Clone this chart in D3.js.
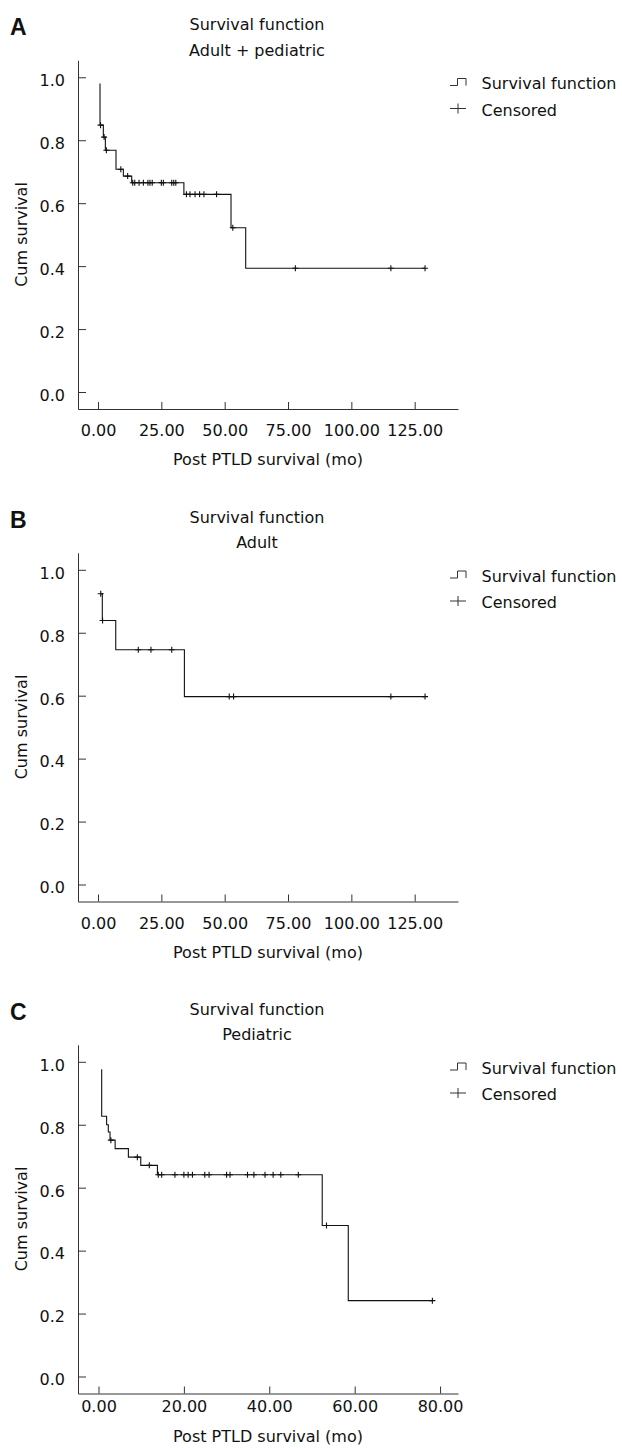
<!DOCTYPE html>
<html>
<head>
<meta charset="utf-8">
<script src="https://cdn.jsdelivr.net/npm/d3@7"></script>
<style>
  body { margin: 0; background: #fff; }
  text { font-family: "DejaVu Sans", Verdana, sans-serif; fill: #111; }
</style>
</head>
<body>
<div id="chart"></div>
<script>
// step points of each Kaplan-Meier curve (time in months, cumulative survival)
var timesA = [0.79, 0.79, 2.1, 2.9, 7.1, 10.0, 13.3, 33.9, 52.5, 58.3, 129.1];
var survA = [0.980, 0.848, 0.810, 0.768, 0.708, 0.686, 0.665, 0.628, 0.522, 0.393, 0.393];
var censoredA = [1.0, 2.4, 3.3, 9.0, 11.7, 13.7, 14.5, 16.2, 17.9, 19.7, 20.5, 21.4, 25.0, 25.8,
  29.1, 29.9, 30.7, 34.9, 36.3, 38.3, 40.1, 41.8, 46.8, 53.2, 77.9, 115.6, 129.1];

var timesB = [1.07, 1.7, 7.0, 34.1, 129.1];
var survB = [0.924, 0.839, 0.746, 0.597, 0.597];
var censoredB = [1.07, 1.8, 15.9, 20.9, 29.1, 51.8, 53.5, 115.6, 129.1];

var timesC = [0.75, 0.75, 1.9, 2.3, 2.7, 3.9, 7.0, 9.9, 13.8, 52.4, 58.5, 78.2];
var survC = [0.976, 0.827, 0.800, 0.777, 0.751, 0.724, 0.697, 0.671, 0.641, 0.480, 0.241, 0.241];
var censoredC = [2.9, 9.1, 11.9, 14.0, 14.8, 17.9, 20.0, 21.0, 22.0, 24.9, 25.9, 30.0, 30.8,
  34.9, 36.4, 39.0, 40.9, 42.7, 46.8, 53.4, 78.2];

var ticksAB = [0, 25, 50, 75, 100, 125];
var ticksC = [0, 20, 40, 60, 80];
var yTicks = [0, 0.2, 0.4, 0.6, 0.8, 1.0];
var letters = ["A", "B", "C"];
var subtitles = ["Adult + pediatric", "Adult", "Pediatric"];
var legendLabels = ["Survival function", "Censored"];

var svg = d3.select("#chart")
  .append("svg")
  .attr("width", 622)
  .attr("height", 1450);

var panels = [
  { times: timesA, surv: survA, cens: censoredA, xDomain: [-7.9, 142.1], xTicks: ticksAB, top: 0, tickY: 436, labelY: 465 },
  { times: timesB, surv: survB, cens: censoredB, xDomain: [-7.9, 142.1], xTicks: ticksAB, top: 492.5, tickY: 436, labelY: 465 },
  { times: timesC, surv: survC, cens: censoredC, xDomain: [-4.8, 84.2], xTicks: ticksC, top: 984.5, tickY: 427.5, labelY: 457.5 }
];

panels.forEach(function (p, k) {
  var g = svg.append("g").attr("transform", "translate(0," + p.top + ")");

  var x = d3.scaleLinear().domain(p.xDomain).range([78, 458]);
  var y = d3.scaleLinear().domain([-0.054, 1.054]).range([409, 60.3]);

  // panel letter and titles
  g.append("text")
    .attr("x", 10).attr("y", 35)
    .style("font-family", "'Liberation Sans', Arial, sans-serif")
    .style("font-weight", "bold").style("font-size", "23px")
    .text(letters[k]);
  g.append("text")
    .attr("x", 257).attr("y", 30)
    .attr("text-anchor", "middle").style("font-size", "16px")
    .text("Survival function");
  g.append("text")
    .attr("x", 257).attr("y", 55.5)
    .attr("text-anchor", "middle").style("font-size", "16px")
    .text(subtitles[k]);

  // axes: ticks point inward
  var yAxis = d3.axisRight(y).tickValues(yTicks).tickFormat(d3.format(".1f")).tickSize(8).tickSizeOuter(0);
  var ya = g.append("g").attr("transform", "translate(78,0)").call(yAxis);
  ya.selectAll("text")
    .attr("x", -13).attr("dy", "0.52em")
    .attr("text-anchor", "end")
    .style("font-size", "16px")
    .style("font-family", "'DejaVu Sans', Verdana, sans-serif");

  var xAxis = d3.axisTop(x).tickValues(p.xTicks).tickFormat(d3.format(".2f")).tickSize(7).tickSizeOuter(0);
  var xa = g.append("g").attr("transform", "translate(0,409)").call(xAxis);
  xa.selectAll("text")
    .attr("y", p.tickY - 409).attr("dy", 0)
    .style("font-size", "16px")
    .style("font-family", "'DejaVu Sans', Verdana, sans-serif");

  g.selectAll(".domain, .tick line").attr("stroke", "#333").attr("stroke-width", 1);

  g.append("text")
    .attr("transform", "translate(26.5," + 234.5 + ") rotate(-90)")
    .attr("text-anchor", "middle").style("font-size", "16px")
    .text("Cum survival");
  g.append("text")
    .attr("x", 268).attr("y", p.labelY)
    .attr("text-anchor", "middle").style("font-size", "16px")
    .text("Post PTLD survival (mo)");

  // survival step curve
  var pts = p.times.map(function (t, i) { return [t, p.surv[i]]; });
  var line = d3.line()
    .x(function (d) { return x(d[0]); })
    .y(function (d) { return y(d[1]); })
    .curve(d3.curveStepAfter);
  g.append("path")
    .datum(pts)
    .attr("d", line)
    .attr("fill", "none")
    .attr("stroke", "#111")
    .attr("stroke-width", 1.1);

  // censored marks sit on the curve level at their time
  function levelAt(t) {
    var s = p.surv[0];
    p.times.forEach(function (tt, i) { if (tt <= t) s = p.surv[i]; });
    return s;
  }
  g.selectAll(".cens")
    .data(p.cens)
    .enter()
    .append("path")
    .attr("class", "cens")
    .attr("d", function (t) {
      var cx = x(t), cy = y(levelAt(t));
      return "M" + (cx - 3) + "," + cy + "H" + (cx + 3) + "M" + cx + "," + (cy - 3) + "V" + (cy + 3);
    })
    .attr("stroke", "#111")
    .attr("stroke-width", 1.1)
    .attr("fill", "none");

  // legend
  var lg = g.append("g").attr("transform", "translate(450,0)");
  lg.append("path")
    .attr("d", "M0,85.5H7.5V78.5H16V85.5")
    .attr("fill", "none").attr("stroke", "#333").attr("stroke-width", 1);
  lg.append("path")
    .attr("d", "M0,108.5H16M8,103.5V113.5")
    .attr("fill", "none").attr("stroke", "#333").attr("stroke-width", 1);
  lg.selectAll(".lab")
    .data(legendLabels)
    .enter()
    .append("text")
    .attr("class", "lab")
    .attr("x", 31.5)
    .attr("y", function (d, i) { return 89 + i * 26.5; })
    .style("font-size", "16px")
    .text(function (d) { return d; });
});
</script>
</body>
</html>
